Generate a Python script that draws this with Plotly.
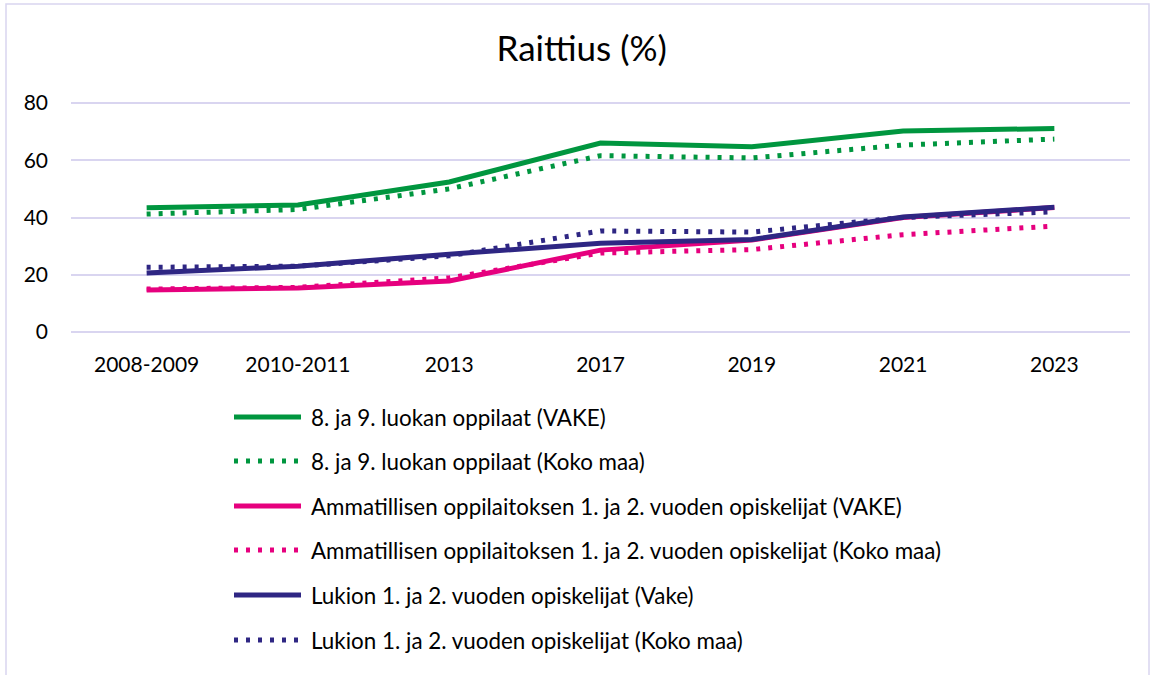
import plotly.graph_objects as go

categories = ["2008-2009", "2010-2011", "2013", "2017", "2019", "2021", "2023"]

green_vake = [43.4, 44.4, 52.4, 66.0, 64.7, 70.2, 71.1]
green_koko = [41.2, 42.8, 50.0, 61.6, 60.8, 65.3, 67.4]
pink_vake = [14.7, 15.4, 17.8, 28.6, 32.1, 40.0, 43.5]
pink_koko = [15.0, 15.6, 18.9, 27.6, 28.8, 34.0, 37.0]
purple_vake = [20.6, 23.0, 27.2, 31.0, 32.3, 40.2, 43.6]
purple_koko = [22.6, 23.0, 26.6, 35.3, 34.9, 40.0, 42.0]

names = [
    "8. ja 9. luokan oppilaat (VAKE)",
    "8. ja 9. luokan oppilaat (Koko maa)",
    "Ammatillisen oppilaitoksen 1. ja 2. vuoden opiskelijat (VAKE)",
    "Ammatillisen oppilaitoksen 1. ja 2. vuoden opiskelijat (Koko maa)",
    "Lukion 1. ja 2. vuoden opiskelijat (Vake)",
    "Lukion 1. ja 2. vuoden opiskelijat (Koko maa)",
]
series = [green_vake, green_koko, pink_vake, pink_koko, purple_vake, purple_koko]
colors = ["#00963F", "#00963F", "#E6007E", "#E6007E", "#2E2683", "#2E2683"]
dashes = ["solid", "4px,8px", "solid", "4px,8px", "solid", "4px,8px"]

W, H = 1152, 675
ml, mr, mt, mb = 71, 22, 100, 343
pw = W - ml - mr
ph = H - mt - mb


def px_x(p):
    return (p - ml) / pw


def px_y(p):
    return 1 - (p - mt) / ph


fig = go.Figure()
for nm, ys, c, d in zip(names, series, colors, dashes):
    fig.add_trace(go.Scatter(
        x=categories, y=ys, name=nm, mode="lines",
        line=dict(color=c, width=5, dash=d), showlegend=False,
    ))

# outer chart border
fig.add_shape(type="rect", xref="paper", yref="paper",
              x0=px_x(6), x1=px_x(1149), y0=px_y(690), y1=px_y(4),
              line=dict(color="#D9D5F0", width=1.5), fillcolor="rgba(0,0,0,0)", layer="below")

# legend (drawn manually to match the long line samples)
legend_rows = [417, 461, 506, 550, 595, 640]
for nm, c, d, ry in zip(names, colors, dashes, legend_rows):
    fig.add_shape(type="line", xref="paper", yref="paper",
                  x0=px_x(234), x1=px_x(301), y0=px_y(ry), y1=px_y(ry),
                  line=dict(color=c, width=5, dash=d))
    fig.add_annotation(xref="paper", yref="paper", x=px_x(309), y=px_y(ry),
                       xanchor="left", yanchor="middle", text=nm, showarrow=False,
                       font=dict(size=22.4, color="#000000"))

fig.update_layout(
    width=W, height=H,
    margin=dict(l=ml, r=mr, t=mt, b=mb),
    paper_bgcolor="white", plot_bgcolor="white",
    font=dict(family="Lato, Open Sans, sans-serif", size=21, color="#000000"),
    title=dict(text="Raittius (%)", x=0.505, xanchor="center", y=0.928, yanchor="middle",
               font=dict(size=35, color="#000000")),
    xaxis=dict(type="category", range=[-0.5, 6.5], showgrid=False, showline=False, ticks="",
               tickfont=dict(size=21), ticklabelstandoff=18),
    yaxis=dict(range=[0, 81.05], tickvals=[0, 20, 40, 60, 80], showgrid=True,
               gridcolor="#D9D5F0", gridwidth=1.5,
               zeroline=True, zerolinecolor="#D9D5F0", zerolinewidth=1.5,
               showline=False, ticks="", tickfont=dict(size=21), ticklabelstandoff=22),
    showlegend=False,
)

fig.write_html("out.html", config={"displayModeBar": False},
               post_script="document.body.style.margin='0';")
